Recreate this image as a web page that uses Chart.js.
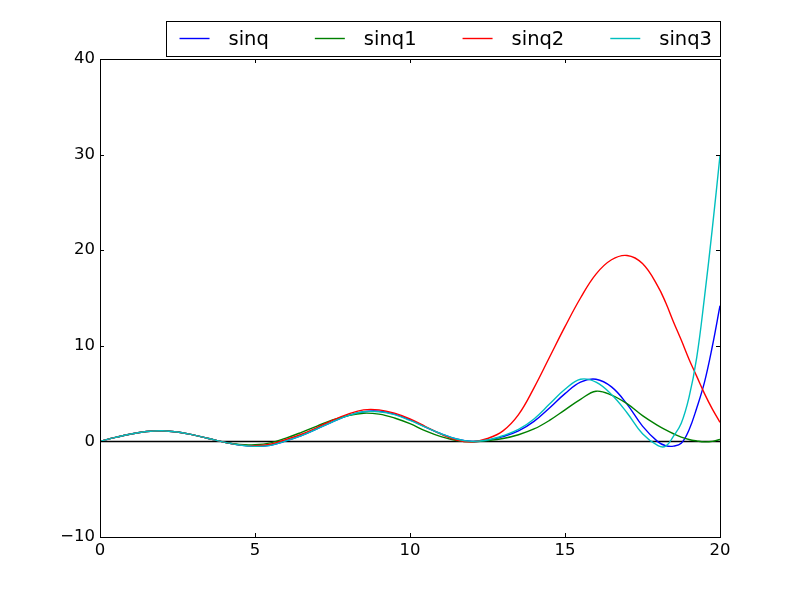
<!DOCTYPE html>
<html>
<head>
<meta charset="utf-8">
<script src="https://cdn.jsdelivr.net/npm/chart.js@4/dist/chart.umd.min.js"></script>
<style>
  html, body { margin:0; padding:0; background:#fff; }
  #wrap { width:800px; height:597px; }
</style>
</head>
<body>
<div id="wrap"><canvas id="chart" width="800" height="597"></canvas></div>
<script>
// x positions shared by all series
const xs = [0,0.5,1,1.5,2,2.5,3,3.5,4,4.5,5,5.5,6,6.5,7,7.5,8,8.5,9,9.5,10,10.5,11,11.5,12,
  12.5,13,13.5,14,14.5,15,15.5,16,16.5,17,17.5,18,18.25,18.5,18.75,19,19.25,19.5,19.75,20];

const sinq  = [0,0.42,0.78,1.03,1.12,0.98,0.68,0.3,-0.08,-0.38,-0.5,-0.4,0.05,0.6,1.3,2.05,2.7,3.1,3.15,2.85,2.25,1.5,0.8,0.25,0,
  0.12,0.5,1.1,2.1,3.5,5.0,6.2,6.5,5.7,3.9,1.6,-0.05,-0.45,-0.5,-0.2,1.2,3.5,6.2,9.9,14.2];
const sinq1 = [0,0.42,0.78,1.03,1.12,0.98,0.68,0.3,-0.08,-0.33,-0.35,-0.15,0.35,0.95,1.6,2.25,2.7,2.95,2.85,2.45,1.85,1.1,0.5,0.1,-0.05,
  0.08,0.3,0.7,1.3,2.2,3.3,4.4,5.25,4.85,3.95,2.7,1.65,1.2,0.8,0.45,0.2,0.05,-0.05,0.0,0.2];
const sinq2 = [0,0.42,0.78,1.03,1.12,0.98,0.68,0.3,-0.08,-0.36,-0.45,-0.3,0.2,0.75,1.45,2.2,2.85,3.3,3.3,2.95,2.35,1.55,0.75,0.15,-0.05,
  0.3,1.1,2.8,5.6,8.8,12.0,15.0,17.5,19.0,19.45,18.6,16.2,14.5,12.5,10.6,8.6,6.8,5.0,3.4,2.0];
const sinq3 = [0,0.42,0.78,1.03,1.12,0.98,0.68,0.3,-0.08,-0.38,-0.52,-0.42,0.05,0.6,1.3,2.05,2.7,3.1,3.1,2.8,2.2,1.5,0.8,0.25,0,
  0.15,0.6,1.25,2.35,3.9,5.45,6.5,6.2,4.9,3.0,0.8,-0.45,-0.5,0.55,1.9,4.6,8.8,15.1,22.2,29.9];

const names = ['sinq','sinq1','sinq2','sinq3'];
const colors = ['#0000ff','#008000','#ff0000','#00bfbf'];
const xTicks = [0,5,10,15,20];
const yTicks = [-10,0,10,20,30,40];

const FONT = "'DejaVu Sans', sans-serif";
Chart.defaults.font.family = FONT;
Chart.defaults.font.size = 16.5;
Chart.defaults.color = '#000';

function toPoints(vals){ return xs.map((x,i)=>({x:x, y:vals[i]})); }

// frame, zero line, inward ticks
const frame = {
  id:'frame',
  beforeDatasetsDraw(chart){
    const {ctx, chartArea:a, scales:{y}} = chart;
    const y0 = Math.round(y.getPixelForValue(0)) + 0.5;
    ctx.save();
    ctx.strokeStyle = '#000';
    ctx.lineWidth = 1.5;
    ctx.beginPath(); ctx.moveTo(a.left, y0); ctx.lineTo(a.right, y0); ctx.stroke();
    ctx.restore();
  },
  afterDatasetsDraw(chart){
    const {ctx, chartArea:a, scales:{x, y}} = chart;
    ctx.save();
    ctx.strokeStyle = '#000';
    ctx.lineWidth = 1;
    ctx.beginPath();
    xTicks.forEach(v=>{
      const px = Math.round(x.getPixelForValue(v)) + 0.5;
      ctx.moveTo(px, a.bottom); ctx.lineTo(px, a.bottom - 4);
      ctx.moveTo(px, a.top); ctx.lineTo(px, a.top + 4);
    });
    yTicks.forEach(v=>{
      const py = Math.round(y.getPixelForValue(v)) + 0.5;
      ctx.moveTo(a.left, py); ctx.lineTo(a.left + 4, py);
      ctx.moveTo(a.right, py); ctx.lineTo(a.right - 4, py);
    });
    ctx.stroke();
    ctx.strokeRect(Math.round(a.left)+0.5, Math.round(a.top)+0.5, Math.round(a.right-a.left), Math.round(a.bottom-a.top));
    ctx.restore();
  }
};

// matplotlib style legend on one row above the axes
const mplLegend = {
  id:'mplLegend',
  afterDraw(chart){
    const {ctx, chartArea:a} = chart;
    const ds = chart.data.datasets;
    ctx.save();
    ctx.font = '19.5px ' + FONT;
    const widths = ds.map(d => ctx.measureText(d.label).width);
    const handle = 30, gap = 19, colSp = 46, padL = 14, padR = 8;
    let total = padL + padR + colSp * (ds.length - 1);
    widths.forEach(w => total += handle + gap + w);
    const right = a.right, left = right - total;
    const top = 21, bottom = 56, cy = 38.5;
    ctx.fillStyle = '#fff';
    ctx.fillRect(left, top, total, bottom - top);
    ctx.strokeStyle = '#000';
    ctx.lineWidth = 1;
    ctx.strokeRect(Math.round(left)+0.5, top+0.5, Math.round(total), bottom - top);
    let x = left + padL;
    ds.forEach((d,i)=>{
      ctx.strokeStyle = d.borderColor;
      ctx.lineWidth = 1.4;
      ctx.beginPath(); ctx.moveTo(x, cy); ctx.lineTo(x + handle, cy); ctx.stroke();
      ctx.fillStyle = '#000';
      ctx.textBaseline = 'middle';
      ctx.textAlign = 'left';
      ctx.fillText(d.label, x + handle + gap, cy + 1);
      x += handle + gap + widths[i] + colSp;
    });
    ctx.restore();
  }
};

new Chart(document.getElementById('chart'), {
  type:'line',
  data:{
    datasets: names.map((n,i)=>({
      label:n,
      data: toPoints([sinq, sinq1, sinq2, sinq3][i]),
      borderColor: colors[i],
      backgroundColor: colors[i],
      borderWidth: 1.4,
      pointRadius: 0,
      fill: false,
      tension: 0.4,
      order: names.length - i
    }))
  },
  options:{
    responsive:false,
    animation:false,
    layout:{ padding:{ left:0, top:59, right:80, bottom:0 } },
    plugins:{ legend:{ display:false }, tooltip:{ enabled:false } },
    scales:{
      x:{
        type:'linear', min:0, max:20,
        afterFit(s){ s.height = 60; },
        afterBuildTicks(s){ s.ticks = xTicks.map(v=>({value:v})); },
        grid:{ display:false, drawTicks:false },
        border:{ display:false },
        ticks:{ padding:4, maxRotation:0, autoSkip:false }
      },
      y:{
        type:'linear', min:-10, max:40,
        afterFit(s){ s.width = 100; },
        afterBuildTicks(s){ s.ticks = yTicks.map(v=>({value:v})); },
        grid:{ display:false, drawTicks:false },
        border:{ display:false },
        ticks:{ padding:5, callback: v => String(v).replace('-', '\u2212') }
      }
    }
  },
  plugins:[frame, mplLegend]
});
</script>
</body>
</html>
